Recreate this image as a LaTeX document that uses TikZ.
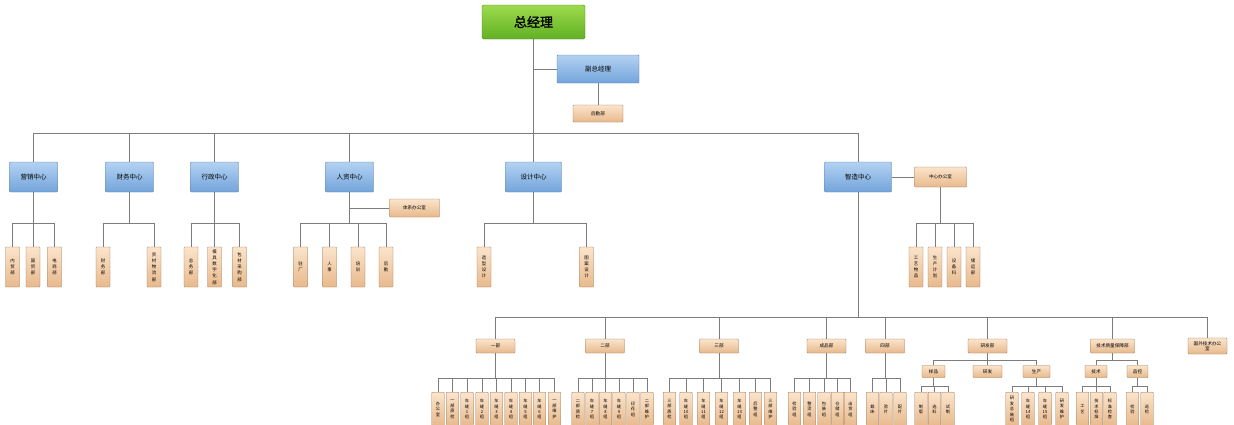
\documentclass[tikz,border=0pt]{standalone}
\usepackage{fontspec}
\setmainfont{Noto Sans CJK SC}[AutoFakeBold=1.5]
\usepackage{xcolor}
\usepackage{tikz}
\usetikzlibrary{positioning}

\definecolor{bosstop}{HTML}{9CDB4C}
\definecolor{bossbot}{HTML}{62B024}
\definecolor{bossline}{HTML}{4F8A22}
\definecolor{bluetop}{HTML}{B3D2F2}
\definecolor{bluebot}{HTML}{73A4DB}
\definecolor{blueline}{HTML}{5F80A8}
\definecolor{tantop}{HTML}{FBE4CB}
\definecolor{tanbot}{HTML}{E8B98C}
\definecolor{tanline}{HTML}{9A7656}
\definecolor{linkgray}{HTML}{7C7C7C}

\begin{document}
\begin{tikzpicture}[
    x=1pt, y=-1pt,
    boss/.style={
        draw=bossline,
        rounded corners=1.5pt,
        top color=bosstop,
        bottom color=bossbot,
        minimum width=103pt,
        minimum height=34pt,
        inner sep=0pt,
        font=\fontsize{13}{13}\selectfont\bfseries
    },
    center/.style={
        draw=blueline,
        rounded corners=1pt,
        top color=bluetop,
        bottom color=bluebot,
        minimum width=48pt,
        minimum height=30pt,
        inner sep=0pt,
        font=\fontsize{6.5}{7}\selectfont
    },
    dept/.style={
        draw=tanline,
        rounded corners=0.8pt,
        top color=tantop,
        bottom color=tanbot,
        minimum width=39pt,
        minimum height=14pt,
        inner sep=0pt,
        align=center,
        font=\fontsize{4.6}{5.4}\selectfont
    },
    unit/.style={
        draw=tanline,
        rounded corners=0.6pt,
        top color=tantop,
        bottom color=tanbot,
        minimum width=14pt,
        minimum height=40pt,
        text width=8pt,
        inner sep=0pt,
        align=center,
        font=\fontsize{4.4}{6.2}\selectfont
    },
    team/.style={
        unit,
        anchor=north,
        minimum width=12.5pt,
        minimum height=34pt,
        font=\fontsize{4.2}{5.4}\selectfont
    },
    link/.style={
        draw=linkgray,
        line width=0.6pt
    }
]

\useasboundingbox (0,0) rectangle (1234,424);
\clip (0,0) rectangle (1234,424);
\fill[white] (0,0) rectangle (1234,424);

% top of the chart
\node[boss] (gm) at (533.5,22) {总经理};

\node[center, minimum width=82pt, minimum height=28pt] (vgm) at (598,69) {副总经理};

\node[dept, minimum width=50pt, minimum height=17pt] (logi) at (598,113.5) {后勤部};

% centres
\node[center] (sales) at (33.5,177) {营销中心};

\node[center] (fin) at (129.5,177) {财务中心};

\node[center] (admin) at (214.5,177) {行政中心};

\node[center] (hr) at (349.5,177) {人资中心};

\node[center, minimum width=56pt] (design) at (533.5,177) {设计中心};

\node[center, minimum width=67pt] (mfg) at (858,177) {智造中心};

\node[dept, minimum width=50pt, minimum height=18pt] (sysoffice) at (414.5,208) {体系办公室};

\node[dept, minimum width=52pt, minimum height=20pt] (mfgoffice) at (940.5,177) {中心办公室};

% units below the centres
\node[unit] (s1) at (12.5,267) {内\\贸\\部};
\node[unit] (s2) at (33,267) {国\\贸\\部};
\node[unit] (s3) at (54.5,267) {电\\商\\部};

\node[unit] (f1) at (103,267) {财\\务\\部};
\node[unit] (f2) at (154,267) {资\\材\\物\\流\\部};

\node[unit] (a1) at (191,267) {总\\务\\部};
\node[unit] (a2) at (214.5,267) {模\\具\\数\\字\\化\\部};
\node[unit] (a3) at (239.5,267) {包\\材\\采\\购\\部};

\node[unit] (h1) at (300.5,267) {驻\\厂};
\node[unit] (h2) at (329.5,267) {人\\事};
\node[unit] (h3) at (358,267) {培\\训};
\node[unit] (h4) at (386,267) {后\\勤};

\node[unit] (d1) at (484,267) {造\\型\\设\\计};
\node[unit] (d2) at (586.5,267) {图\\案\\设\\计};

\node[unit] (o1) at (916,267) {工\\艺\\物\\品};
\node[unit] (o2) at (935,267) {生\\产\\计\\划};
\node[unit] (o3) at (954,267) {设\\备\\科};
\node[unit] (o4) at (973,267) {储\\运\\部};

% departments of the manufacturing centre
\node[dept] (p1) at (495.5,346) {一部};

\node[dept] (p2) at (605,346) {二部};

\node[dept] (p3) at (719,346) {三部};

\node[dept] (p4) at (826.5,346) {成品部};

\node[dept] (p5) at (885,346) {四部};

\node[dept] (rd) at (987.5,346) {研发部};

\node[dept, minimum width=44pt] (qa) at (1112.5,346) {技术质量保障部};

\node[dept, minimum height=16pt] (abroad) at (1207.5,346) {国外技术办公\\室};

\node[dept, minimum width=23pt, minimum height=12pt] (sample) at (933.5,371.5) {样品};
\node[dept, minimum width=29pt, minimum height=12pt] (dev) at (987.5,371.5) {研发};
\node[dept, minimum width=27pt, minimum height=12pt] (prod) at (1036.5,371.5) {生产};
\node[dept, minimum width=22pt, minimum height=12pt] (tech) at (1096,371.5) {技术};
\node[dept, minimum width=21pt, minimum height=12pt] (qc) at (1137.5,371.5) {品控};

% teams
\node[team] (t11) at (438,392) {办\\公\\室};
\node[team] (t12) at (452.5,392) {一\\部\\质\\检};
\node[team] (t13) at (467,392) {车\\缝\\1\\组};
\node[team] (t14) at (482,392) {车\\缝\\2\\组};
\node[team] (t15) at (496.5,392) {车\\缝\\3\\组};
\node[team] (t16) at (511,392) {车\\缝\\4\\组};
\node[team] (t17) at (525.5,392) {车\\缝\\5\\组};
\node[team] (t18) at (539.5,392) {车\\缝\\6\\组};
\node[team] (t19) at (554.5,392) {一\\部\\维\\护};

\node[team] (t21) at (578,392) {二\\部\\质\\检};
\node[team] (t22) at (592,392) {车\\缝\\7\\组};
\node[team] (t23) at (605.5,392) {车\\缝\\8\\组};
\node[team] (t24) at (619,392) {车\\缝\\9\\组};
\node[team] (t25) at (633,392) {印\\花\\组};
\node[team] (t26) at (647,392) {二\\部\\维\\护};

\node[team] (t31) at (669.5,392) {三\\部\\质\\检};
\node[team] (t32) at (686,392) {车\\缝\\10\\组};
\node[team] (t33) at (703.5,392) {车\\缝\\11\\组};
\node[team] (t34) at (721.5,392) {车\\缝\\12\\组};
\node[team] (t35) at (739.5,392) {车\\缝\\13\\组};
\node[team] (t36) at (755.5,392) {后\\整\\组};
\node[team] (t37) at (770.5,392) {三\\部\\维\\护};

\node[team] (t41) at (794.5,392) {检\\验\\组};
\node[team] (t42) at (809.5,392) {整\\烫\\组};
\node[team] (t43) at (824,392) {包\\装\\组};
\node[team] (t44) at (837.5,392) {仓\\储\\组};
\node[team] (t45) at (850.5,392) {出\\货\\组};

\node[team] (t51) at (872.5,392) {裁\\床};
\node[team] (t52) at (886,392) {验\\片};
\node[team] (t53) at (900,392) {配\\片};

\node[team] (t61) at (921,392) {制\\版};
\node[team] (t62) at (934.5,392) {选\\料};
\node[team] (t63) at (948,392) {试\\制};

\node[team] (t71) at (1012,392) {研\\发\\总\\装\\组};
\node[team] (t72) at (1028,392) {车\\缝\\14\\组};
\node[team] (t73) at (1045,392) {车\\缝\\15\\组};
\node[team] (t74) at (1062,392) {研\\发\\维\\护};

\node[team] (t81) at (1082.5,392) {工\\艺};
\node[team] (t82) at (1096.5,392) {技\\术\\标\\准};
\node[team] (t83) at (1110,392) {标\\准\\检\\查};

\node[team] (t91) at (1132.5,392) {检\\验};
\node[team] (t92) at (1147,392) {巡\\检};

% bus lines
\coordinate (topbus) at (0,133);
\coordinate (unitbus) at (0,223.5);
\coordinate (deptbus) at (0,317);
\coordinate (subbus) at (0,360);
\coordinate (teambus) at (0,378);
\coordinate (lowbus) at (0,386.5);

% connectors
\draw[link] (gm.south) -- (gm.south |- topbus) -| (sales.north)
    (gm.south |- topbus) -| (fin.north)
    (gm.south |- topbus) -| (admin.north)
    (gm.south |- topbus) -| (hr.north)
    (gm.south |- topbus) -| (design.north)
    (gm.south |- topbus) -| (mfg.north);

\draw[link] (gm.south |- vgm.west) -- (vgm.west);

\draw[link] (vgm) -- (logi);

\draw[link] (sales.south) -- (sales.south |- unitbus) -| (s1.north)
    (sales.south |- unitbus) -| (s2.north)
    (sales.south |- unitbus) -| (s3.north);

\draw[link] (fin.south) -- (fin.south |- unitbus) -| (f1.north)
    (fin.south |- unitbus) -| (f2.north);

\draw[link] (admin.south) -- (admin.south |- unitbus) -| (a1.north)
    (admin.south |- unitbus) -| (a2.north)
    (admin.south |- unitbus) -| (a3.north);

\draw[link] (hr.south |- sysoffice.west) -- (sysoffice.west);

\draw[link] (hr.south) -- (hr.south |- unitbus) -| (h1.north)
    (hr.south |- unitbus) -| (h2.north)
    (hr.south |- unitbus) -| (h3.north)
    (hr.south |- unitbus) -| (h4.north);

\draw[link] (design.south) -- (design.south |- unitbus) -| (d1.north)
    (design.south |- unitbus) -| (d2.north);

\draw[link] (mfg.east) -- (mfgoffice.west);

\draw[link] (mfgoffice.south) -- (mfgoffice.south |- unitbus) -| (o1.north)
    (mfgoffice.south |- unitbus) -| (o2.north)
    (mfgoffice.south |- unitbus) -| (o3.north)
    (mfgoffice.south |- unitbus) -| (o4.north);

\draw[link] (mfg.south) -- (mfg.south |- deptbus) -| (p1.north)
    (mfg.south |- deptbus) -| (p2.north)
    (mfg.south |- deptbus) -| (p3.north)
    (mfg.south |- deptbus) -| (p4.north)
    (mfg.south |- deptbus) -| (p5.north)
    (mfg.south |- deptbus) -| (rd.north)
    (mfg.south |- deptbus) -| (qa.north)
    (mfg.south |- deptbus) -| (abroad.north);

\draw[link] (p1.south) -- (p1.south |- teambus) -| (t11.north)
    (p1.south |- teambus) -| (t12.north)
    (p1.south |- teambus) -| (t13.north)
    (p1.south |- teambus) -| (t14.north)
    (p1.south |- teambus) -| (t15.north)
    (p1.south |- teambus) -| (t16.north)
    (p1.south |- teambus) -| (t17.north)
    (p1.south |- teambus) -| (t18.north)
    (p1.south |- teambus) -| (t19.north);

\draw[link] (p2.south) -- (p2.south |- teambus) -| (t21.north)
    (p2.south |- teambus) -| (t22.north)
    (p2.south |- teambus) -| (t23.north)
    (p2.south |- teambus) -| (t24.north)
    (p2.south |- teambus) -| (t25.north)
    (p2.south |- teambus) -| (t26.north);

\draw[link] (p3.south) -- (p3.south |- teambus) -| (t31.north)
    (p3.south |- teambus) -| (t32.north)
    (p3.south |- teambus) -| (t33.north)
    (p3.south |- teambus) -| (t34.north)
    (p3.south |- teambus) -| (t35.north)
    (p3.south |- teambus) -| (t36.north)
    (p3.south |- teambus) -| (t37.north);

\draw[link] (p4.south) -- (p4.south |- teambus) -| (t41.north)
    (p4.south |- teambus) -| (t42.north)
    (p4.south |- teambus) -| (t43.north)
    (p4.south |- teambus) -| (t44.north)
    (p4.south |- teambus) -| (t45.north);

\draw[link] (p5.south) -- (p5.south |- teambus) -| (t51.north)
    (p5.south |- teambus) -| (t52.north)
    (p5.south |- teambus) -| (t53.north);

\draw[link] (rd.south) -- (rd.south |- subbus) -| (sample.north)
    (rd.south |- subbus) -| (dev.north)
    (rd.south |- subbus) -| (prod.north);

\draw[link] (qa.south) -- (qa.south |- subbus) -| (tech.north)
    (qa.south |- subbus) -| (qc.north);

\draw[link] (sample.south) -- (sample.south |- lowbus) -| (t61.north)
    (sample.south |- lowbus) -| (t62.north)
    (sample.south |- lowbus) -| (t63.north);

\draw[link] (prod.south) -- (prod.south |- lowbus) -| (t71.north)
    (prod.south |- lowbus) -| (t72.north)
    (prod.south |- lowbus) -| (t73.north)
    (prod.south |- lowbus) -| (t74.north);

\draw[link] (tech.south) -- (tech.south |- lowbus) -| (t81.north)
    (tech.south |- lowbus) -| (t82.north)
    (tech.south |- lowbus) -| (t83.north);

\draw[link] (qc.south) -- (qc.south |- lowbus) -| (t91.north)
    (qc.south |- lowbus) -| (t92.north);

\end{tikzpicture}
\end{document}
